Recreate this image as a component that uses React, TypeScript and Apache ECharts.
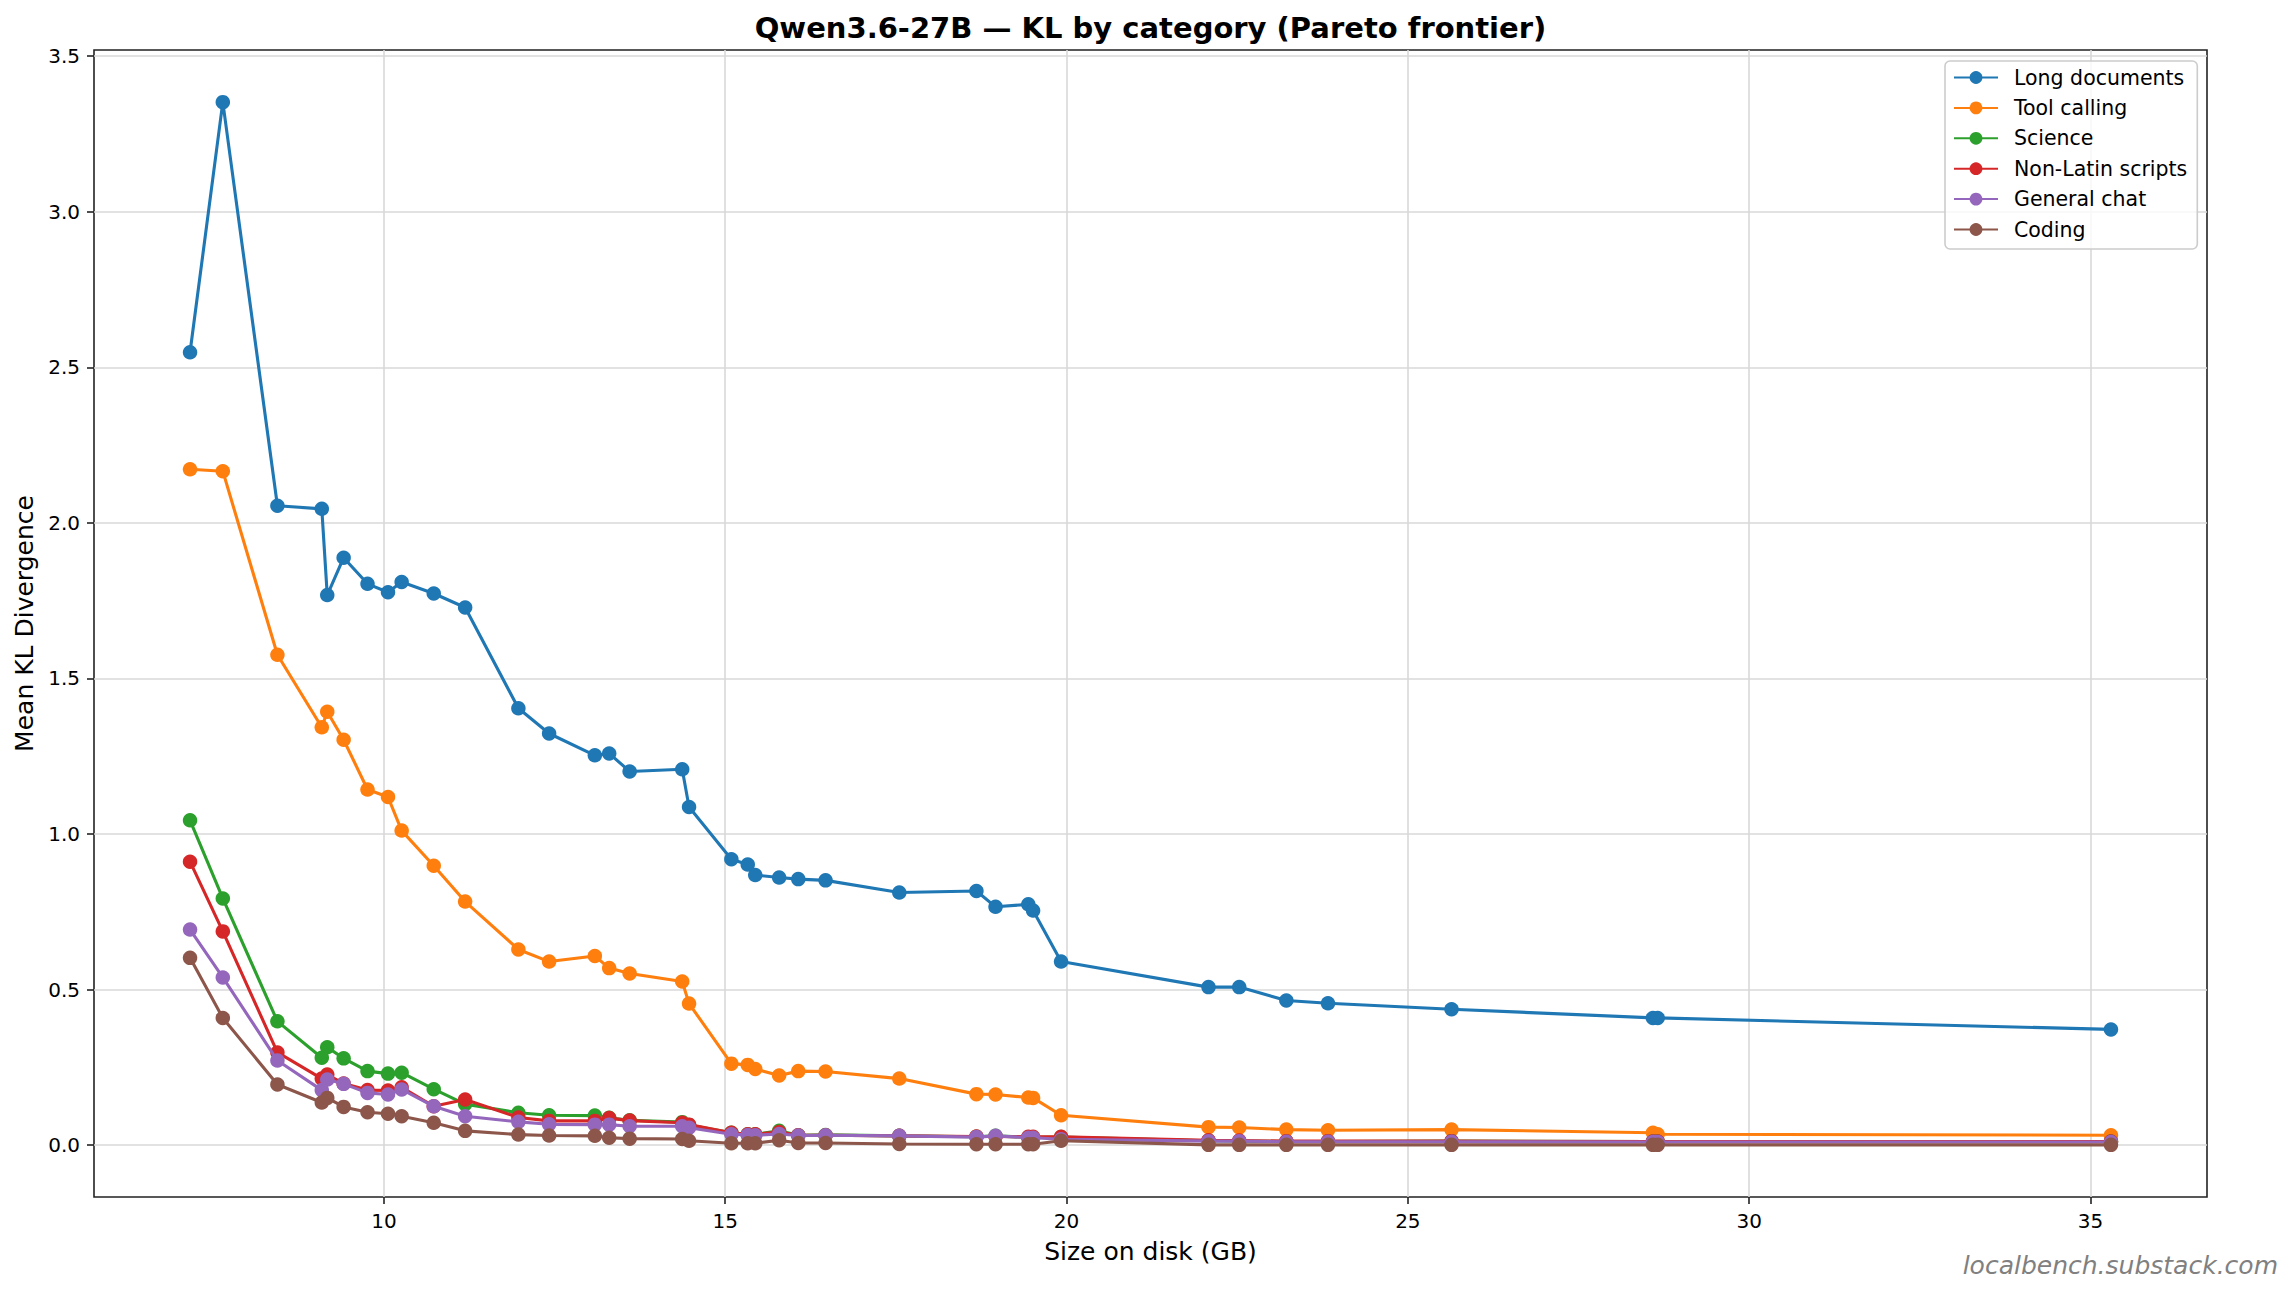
import React, { useEffect, useRef } from "react";
import * as echarts from "echarts";

// ---------- data ----------
const sizeGB = [
  7.16, 7.64, 8.44, 9.09, 9.17, 9.41, 9.76, 10.06, 10.26, 10.73, 11.19, 11.97, 12.42,
  13.09, 13.3, 13.6, 14.37, 14.47, 15.09, 15.33, 15.44, 15.79, 16.07, 16.47, 17.55,
  18.68, 18.96, 19.44, 19.51, 19.92, 22.08, 22.53, 23.22, 23.83, 25.64, 28.59, 28.66, 35.3,
];

const longDocuments = [
  2.548, 3.352, 2.055, 2.045, 1.768, 1.888, 1.804, 1.777, 1.81, 1.773, 1.728, 1.404, 1.323,
  1.253, 1.259, 1.201, 1.208, 1.087, 0.919, 0.902, 0.868, 0.86, 0.855, 0.851, 0.812,
  0.817, 0.766, 0.774, 0.754, 0.59, 0.508, 0.508, 0.465, 0.456, 0.437, 0.409, 0.409, 0.372,
];

const toolCalling = [
  2.172, 2.166, 1.576, 1.343, 1.393, 1.303, 1.143, 1.119, 1.011, 0.898, 0.783, 0.629, 0.59,
  0.608, 0.569, 0.552, 0.526, 0.455, 0.262, 0.258, 0.245, 0.224, 0.238, 0.237, 0.214,
  0.164, 0.163, 0.153, 0.152, 0.096, 0.058, 0.057, 0.05, 0.048, 0.05, 0.04, 0.035, 0.032,
];

const science = [
  1.044, 0.793, 0.398, 0.281, 0.315, 0.279, 0.238, 0.23, 0.233, 0.18, 0.132, 0.104, 0.096,
  0.095, 0.088, 0.08, 0.074, 0.065, 0.04, 0.035, 0.035, 0.046, 0.032, 0.033, 0.03,
  0.027, 0.03, 0.025, 0.025, 0.026, 0.014, 0.013, 0.012, 0.012, 0.013, 0.012, 0.012, 0.012,
];

const nonLatinScripts = [
  0.911, 0.687, 0.298, 0.214, 0.227, 0.198, 0.177, 0.176, 0.186, 0.125, 0.147, 0.089, 0.078,
  0.078, 0.087, 0.079, 0.072, 0.066, 0.04, 0.035, 0.035, 0.042, 0.032, 0.032, 0.03,
  0.028, 0.028, 0.027, 0.027, 0.027, 0.016, 0.015, 0.013, 0.013, 0.013, 0.012, 0.012, 0.012,
];

const generalChat = [
  0.693, 0.539, 0.272, 0.177, 0.211, 0.197, 0.168, 0.163, 0.179, 0.125, 0.093, 0.075, 0.067,
  0.066, 0.066, 0.061, 0.061, 0.056, 0.035, 0.033, 0.032, 0.036, 0.031, 0.032, 0.03,
  0.026, 0.03, 0.024, 0.024, 0.019, 0.013, 0.013, 0.011, 0.011, 0.011, 0.01, 0.01, 0.01,
];

const coding = [
  0.602, 0.409, 0.195, 0.137, 0.152, 0.123, 0.106, 0.101, 0.093, 0.072, 0.046, 0.034, 0.031,
  0.03, 0.024, 0.021, 0.02, 0.014, 0.006, 0.006, 0.006, 0.016, 0.007, 0.007, 0.004,
  0.003, 0.003, 0.003, 0.003, 0.014, 0.001, 0.001, 0.001, 0.001, 0.001, 0.001, 0.001, 0.001,
];

const seriesNames = [
  "Long documents",
  "Tool calling",
  "Science",
  "Non-Latin scripts",
  "General chat",
  "Coding",
];
const seriesValues = [longDocuments, toolCalling, science, nonLatinScripts, generalChat, coding];
const seriesColors = ["#1f77b4", "#ff7f0e", "#2ca02c", "#d62728", "#9467bd", "#8c564b"];

const xTickValues = [10, 15, 20, 25, 30, 35];
const yTickValues = [0, 0.5, 1.0, 1.5, 2.0, 2.5, 3.0, 3.5];

const titleText = "Qwen3.6-27B \u2014 KL by category (Pareto frontier)";
const xAxisTitle = "Size on disk (GB)";
const yAxisTitle = "Mean KL Divergence";
const watermark = "localbench.substack.com";

// ---------- chart ----------
const FONT = '"DejaVu Sans", "Liberation Sans", sans-serif';

function padded(values: number[]) {
  const lo = Math.min(...values);
  const hi = Math.max(...values);
  const m = (hi - lo) * 0.05;
  return [lo - m, hi + m];
}

export default function App() {
  const ref = useRef<HTMLDivElement>(null);

  useEffect(() => {
    if (!ref.current) return;
    const chart = echarts.init(ref.current, undefined, { renderer: "svg" });

    const [xMin, xMax] = padded(sizeGB);
    const [yMin, yMax] = padded(seriesValues.flat());

    const axisStyle = { color: "#222222", width: 1.6 };
    const gridLine = { show: true, lineStyle: { color: "#d9d9d9", width: 1.6 } };

    const option: any = {
      animation: false,
      backgroundColor: "#ffffff",
      textStyle: { fontFamily: FONT },
      grid: {
        left: 94,
        top: 50,
        width: 2113,
        height: 1147,
        show: true,
        borderColor: "#222222",
        borderWidth: 1.6,
        backgroundColor: "transparent",
        containLabel: false,
      },
      xAxis: {
        type: "value",
        min: xMin,
        max: xMax,
        splitNumber: 6,
        minInterval: 5,
        maxInterval: 5,
        axisLine: { show: false, onZero: false },
        axisTick: {
          show: true,
          length: 7,
          lineStyle: axisStyle,
          customValues: xTickValues,
        },
        axisLabel: {
          show: true,
          margin: 14,
          fontSize: 20,
          color: "#000000",
          fontFamily: FONT,
          customValues: xTickValues,
          formatter: (v: number) => String(Math.round(v)),
        },
        splitLine: gridLine,
        name: xAxisTitle,
        nameLocation: "middle",
        nameGap: 42,
        nameTextStyle: { fontSize: 25, color: "#000000", fontFamily: FONT },
      },
      yAxis: {
        type: "value",
        min: yMin,
        max: yMax,
        splitNumber: 7,
        minInterval: 0.5,
        maxInterval: 0.5,
        axisLine: { show: false, onZero: false },
        axisTick: {
          show: true,
          length: 7,
          lineStyle: axisStyle,
          customValues: yTickValues,
        },
        axisLabel: {
          show: true,
          margin: 14,
          fontSize: 20,
          color: "#000000",
          fontFamily: FONT,
          customValues: yTickValues,
          formatter: (v: number) => v.toFixed(1),
        },
        splitLine: gridLine,
        name: yAxisTitle,
        nameLocation: "middle",
        nameGap: 57,
        nameRotate: 90,
        nameTextStyle: { fontSize: 25, color: "#000000", fontFamily: FONT },
      },
      legend: {
        show: true,
        orient: "vertical",
        left: 1945,
        top: 61,
        padding: [6, 10, 9, 8],
        itemWidth: 44,
        itemHeight: 16,
        itemGap: 9.4,
        backgroundColor: "rgba(255,255,255,0.8)",
        borderColor: "#cccccc",
        borderWidth: 1.6,
        borderRadius: 5,
        selectedMode: false,
        textStyle: {
          fontSize: 20.5,
          lineHeight: 21,
          color: "#000000",
          fontFamily: FONT,
          padding: [0, 0, 0, 11],
        },
        data: seriesNames,
      },
      graphic: [
        {
          type: "text",
          x: 1150.5,
          y: 28,
          style: {
            text: titleText,
            font: `bold 29px ${FONT}`,
            fill: "#000000",
            textAlign: "center",
            textVerticalAlign: "middle",
            align: "center",
            verticalAlign: "middle",
          },
        },
        {
          type: "text",
          x: 2278,
          y: 1265,
          style: {
            text: watermark,
            font: `italic 25px ${FONT}`,
            fill: "#808080",
            textAlign: "right",
            textVerticalAlign: "middle",
            align: "right",
            verticalAlign: "middle",
          },
        },
      ],
      series: seriesNames.map((name, i) => ({
        name,
        type: "line",
        data: sizeGB.map((x, j) => [x, seriesValues[i][j]]),
        symbol: "circle",
        symbolSize: 14.5,
        showSymbol: true,
        showAllSymbol: true,
        color: seriesColors[i],
        lineStyle: { color: seriesColors[i], width: 3.1 },
        itemStyle: { color: seriesColors[i] },
        emphasis: { disabled: true },
        z: 2 + i,
      })),
    };

    chart.setOption(option);
    return () => {
      chart.dispose();
    };
  }, []);

  return (
    <div
      ref={ref}
      style={{ position: "fixed", left: 0, top: 0, width: 2294, height: 1294, background: "#ffffff" }}
    />
  );
}
